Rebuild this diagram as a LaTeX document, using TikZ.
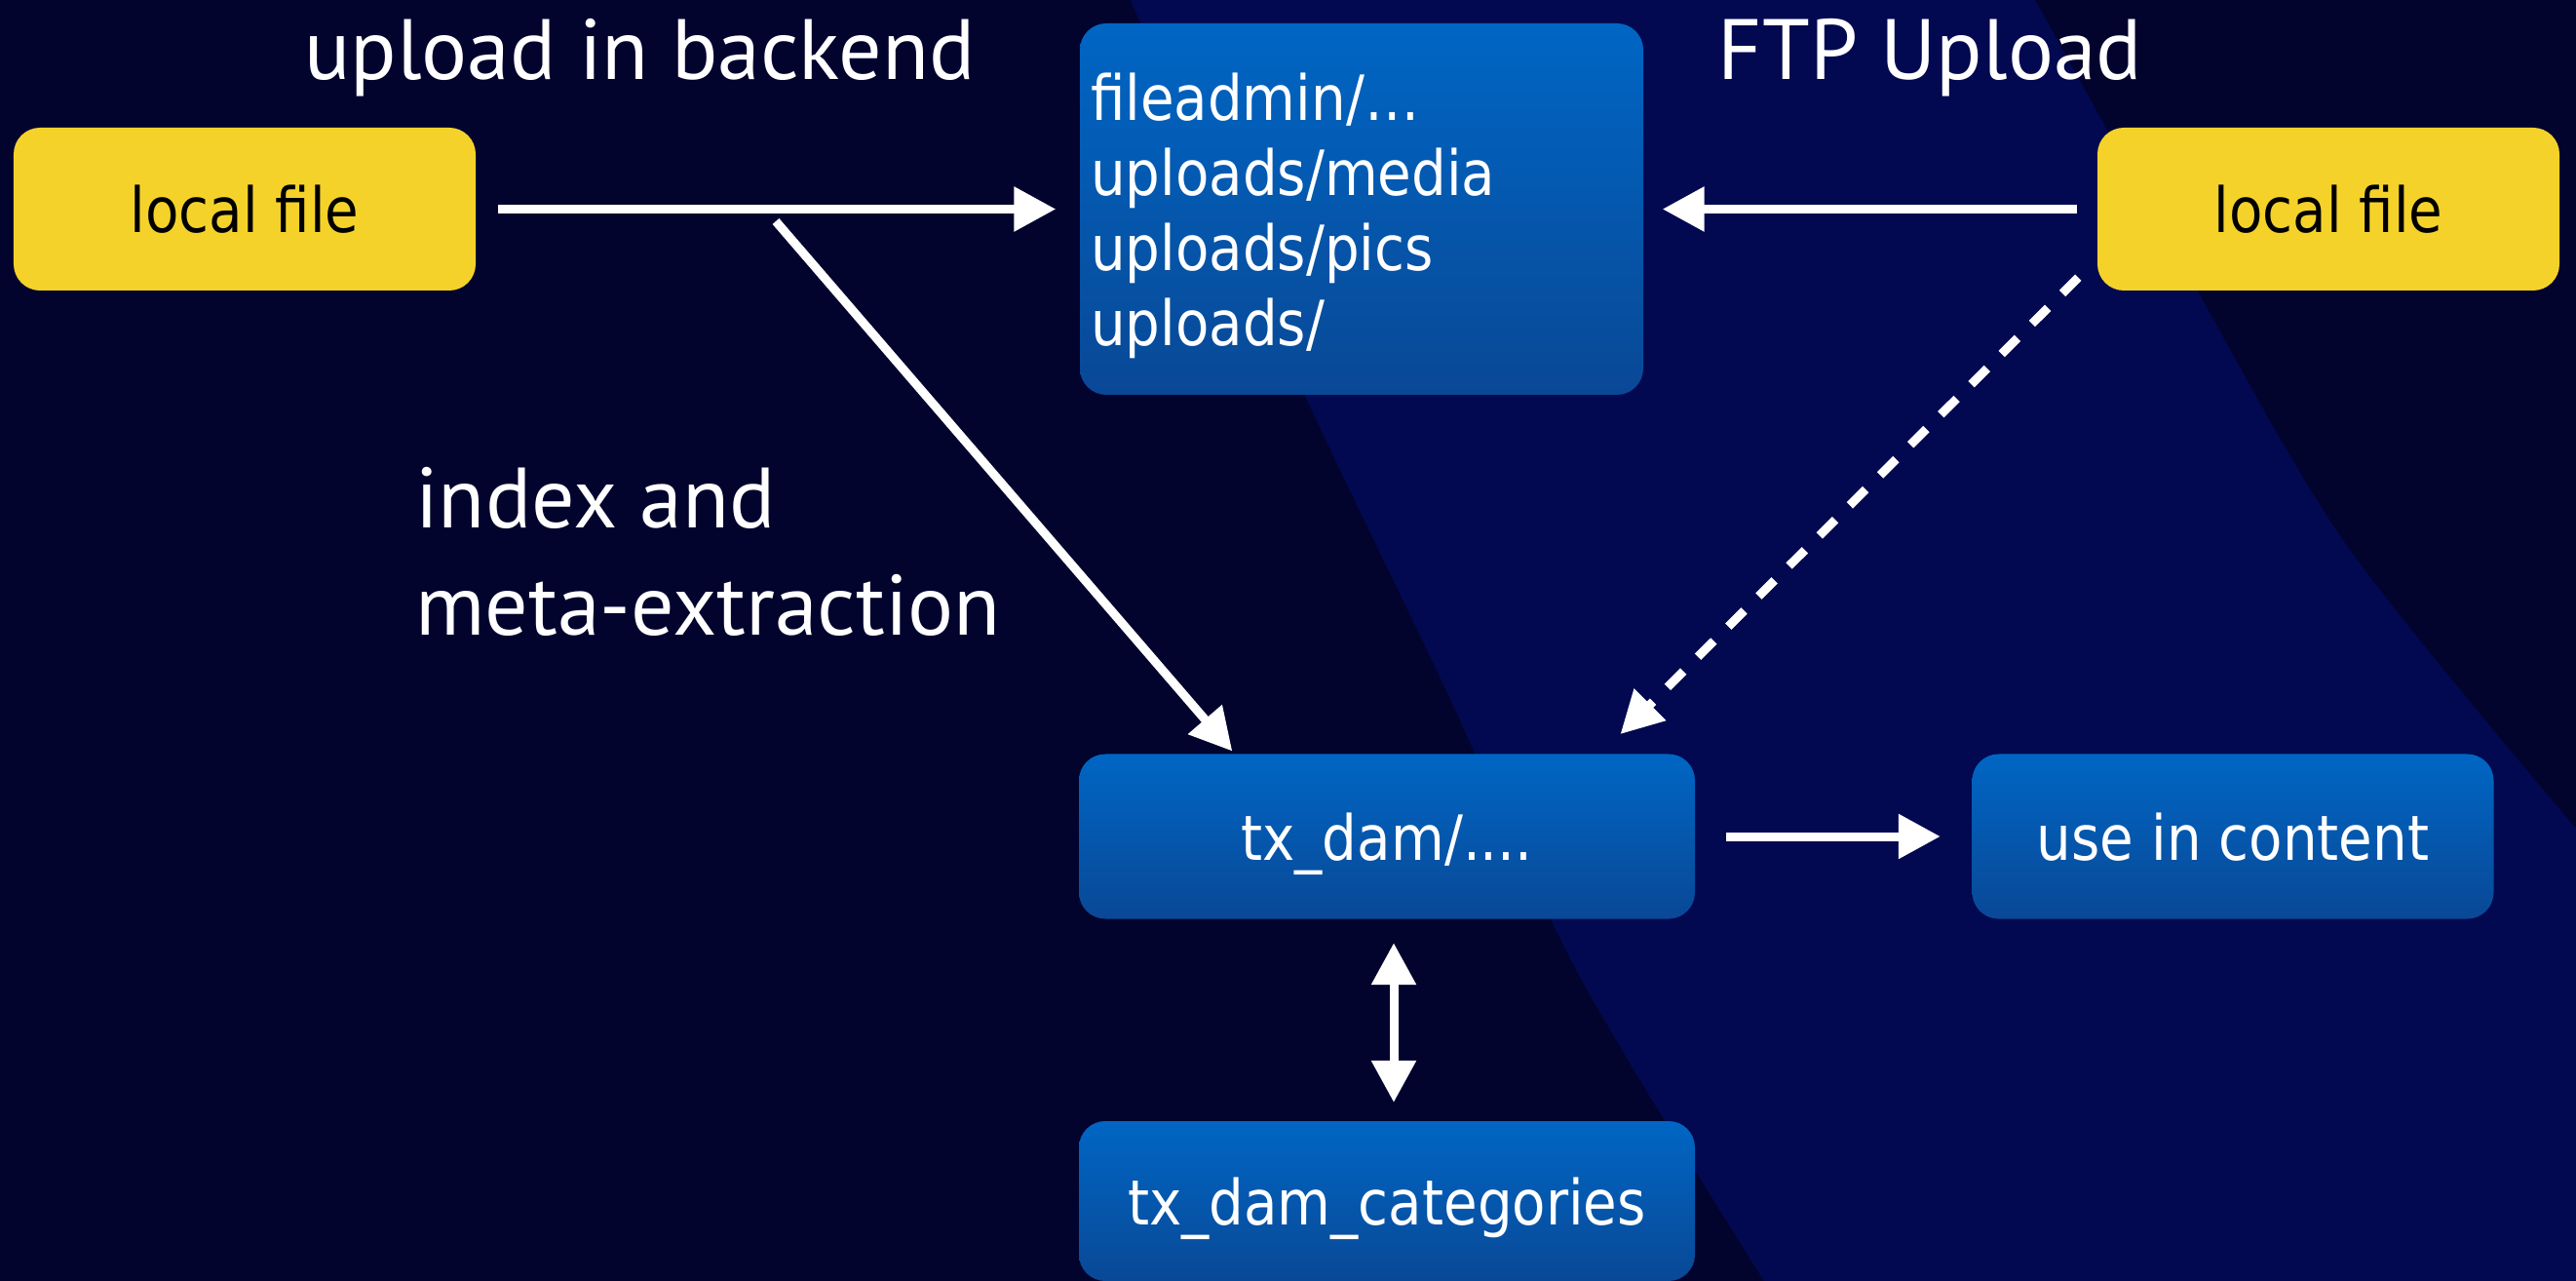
\documentclass[tikz,border=0pt]{standalone}
\usepackage{fontspec}
\usepackage{xcolor}
\usetikzlibrary{arrows.meta,positioning,calc}
\newfontfamily\boxfont[FakeStretch=0.88]{DejaVu Sans}
\newfontfamily\titlefont{PT Sans}
\definecolor{bgdark}{RGB}{2,4,46}
\definecolor{bglight}{RGB}{3,9,80}
\definecolor{boxtop}{RGB}{0,102,196}
\definecolor{boxbot}{RGB}{9,72,150}
\definecolor{fileyellow}{RGB}{245,210,42}
\tikzset{
  box/.style={rectangle, rounded corners=0.27cm, inner sep=0pt, align=center, font=\boxfont\fontsize{18.2}{21.9}\selectfont},
  filebox/.style={box, fill=fileyellow, text=black, text depth=0pt, minimum width=4.74cm, minimum height=1.67cm},
  dbbox/.style={box, top color=boxtop, bottom color=boxbot, text=white, text depth=0pt, minimum width=6.32cm, minimum height=1.69cm},
  dirbox/.style={box, top color=boxtop, bottom color=boxbot, text=white, minimum width=5.78cm, minimum height=3.81cm, text width=5.56cm, text height=17.8pt, inner xsep=0.11cm, align=left},
  title/.style={font=\titlefont\fontsize{25}{30}\selectfont, text=white, anchor=base},
  arrow/.style={-{Triangle[length=0.43cm, width=0.44cm]}, line width=0.09cm, draw=white},
  dasharrow/.style={arrow, dash pattern=on 0.23cm off 0.21cm},
  biarrow/.style={{Triangle[length=0.43cm, width=0.44cm]}-{Triangle[length=0.43cm, width=0.44cm]}, line width=0.09cm, draw=white},
}
\begin{document}
\begin{tikzpicture}
  \useasboundingbox (0,0) rectangle (26.43,-13.14);
  % background
  \fill[bgdark] (0,0) rectangle (26.43,-13.14);
  \fill[bglight] plot[smooth] coordinates {(11.6,0) (13.27,-3.8) (14.8,-7.0) (16.2,-10.0) (18.1,-13.14)}
    -- (26.43,-13.14) -- plot[smooth] coordinates {(26.43,-8.5) (24.08,-5.6) (22.48,-2.87) (20.88,0)} -- cycle;

  % headings
  \node[title] (upl) at (6.565,-0.82) {upload in backend};
  \node[title] (ftp) at (19.805,-0.82) {FTP Upload};
  \node[title, anchor=base west] (idx) at (4.14,-5.42) {index and};
  \node[title, anchor=base west] (meta) at (4.14,-6.52) {meta-extraction};

  % boxes
  \node[filebox] (lfL) at (2.51,-2.145) {local file};
  \node[dirbox] (dirs) at (13.97,-2.145) {fileadmin/…\\uploads/media\\uploads/pics\\uploads/};
  \node[filebox] (lfR) at (23.89,-2.145) {local file};
  \node[dbbox] (txdam) at (14.23,-8.58) {tx\_dam/....};
  \node[dbbox, minimum width=5.35cm] (use) at (22.91,-8.58) {use in content};
  \node[dbbox, minimum height=1.64cm] (cats) at (14.23,-12.32) {tx\_dam\_categories};

  % arrows
  \draw[arrow, shorten <=0.22cm, shorten >=0.24cm] (lfL) -- (dirs);
  \coordinate (split) at (7.96,-2.27);
  \draw[arrow, shorten >=0.03cm] (split) -- ($(txdam.north west)+(1.6,0)$);
  \draw[arrow, shorten <=0.2cm, shorten >=0.19cm] (lfR) -- (dirs);
  \draw[dasharrow, shorten >=0.28cm] ($(lfR.south west)+(-0.19,0.14)$) -- ($(txdam.north east)+(-0.97,0)$);
  \draw[arrow, shorten <=0.31cm, shorten >=0.32cm] (txdam) -- (use);
  \draw[biarrow, shorten <=0.24cm, shorten >=0.185cm] ($(txdam.south)+(0.07,0)$) -- ($(cats.north)+(0.07,0)$);
\end{tikzpicture}
\end{document}
